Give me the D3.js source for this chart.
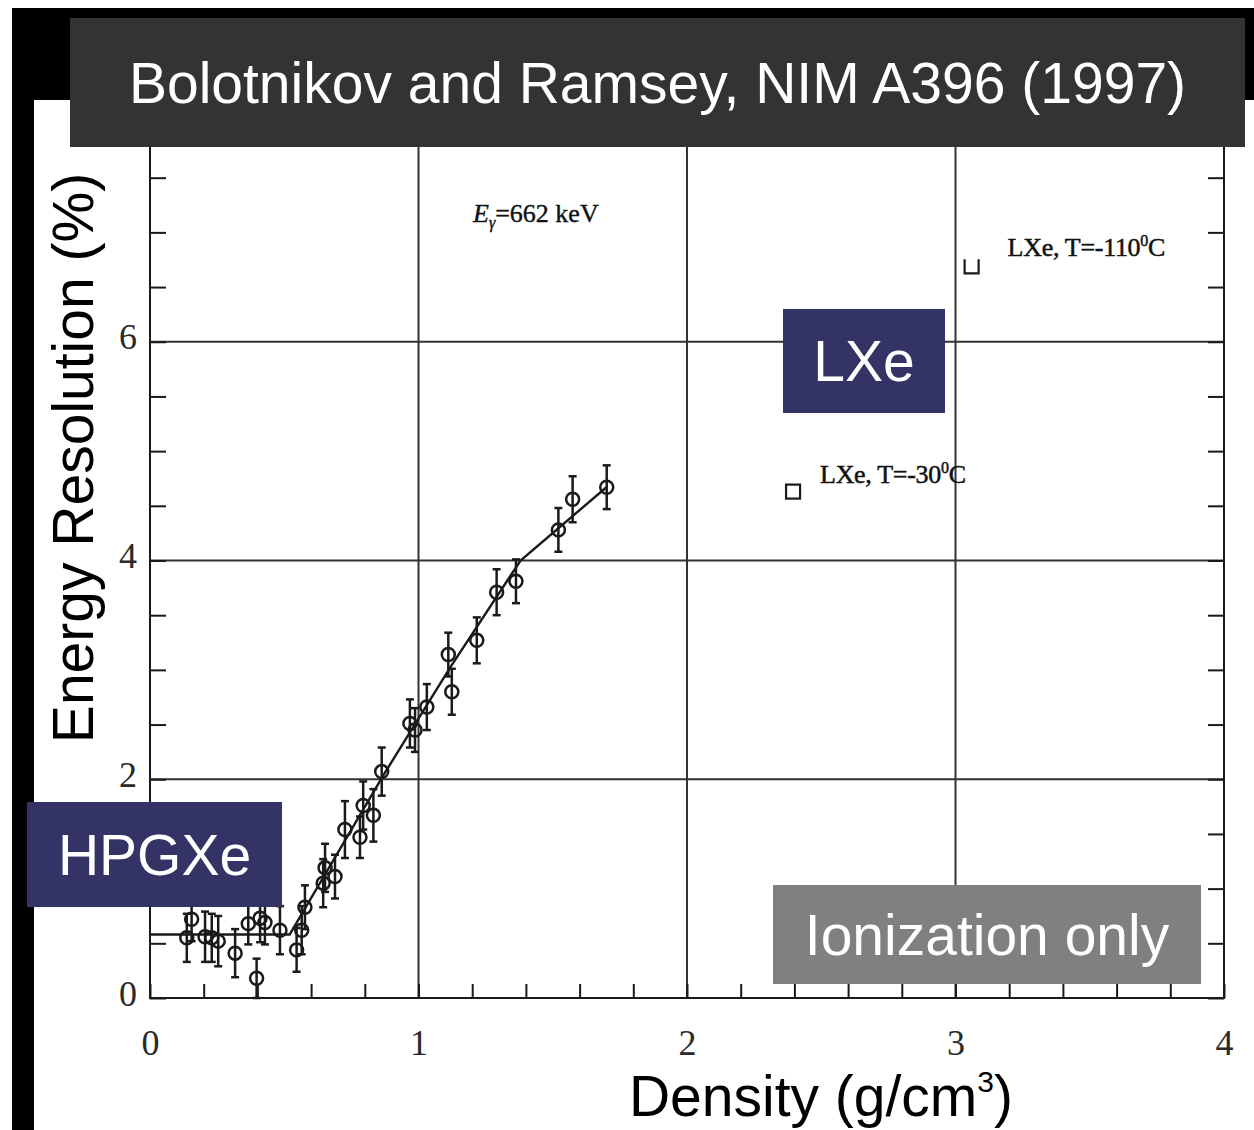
<!DOCTYPE html>
<html>
<head>
<meta charset="utf-8">
<script src="https://cdn.jsdelivr.net/npm/d3@7"></script>
<style>
  html, body { margin: 0; padding: 0; background: #fff; }
  svg { display: block; }
</style>
</head>
<body>
<div id="chart"></div>
<script>
'use strict';

// HPGXe / LXe energy resolution vs density
var density = [0.137, 0.155, 0.205, 0.230, 0.254, 0.317, 0.366, 0.397, 0.410, 0.428,
  0.484, 0.546, 0.565, 0.577, 0.645, 0.652, 0.689, 0.726, 0.782, 0.794,
  0.832, 0.863, 0.968, 0.987, 1.031, 1.111, 1.124, 1.217, 1.291, 1.363,
  1.521, 1.574, 1.701];
var resolution = [0.55, 0.72, 0.56, 0.55, 0.52, 0.41, 0.68, 0.18, 0.73, 0.69,
  0.62, 0.44, 0.62, 0.83, 1.05, 1.19, 1.11, 1.54, 1.47, 1.76,
  1.67, 2.07, 2.51, 2.45, 2.66, 3.14, 2.80, 3.27, 3.71, 3.81,
  4.28, 4.56, 4.67];
var errors = [0.22, 0.20, 0.23, 0.22, 0.23, 0.22, 0.19, 0.18, 0.22, 0.20,
  0.22, 0.20, 0.22, 0.20, 0.22, 0.22, 0.20, 0.26, 0.19, 0.22,
  0.24, 0.22, 0.22, 0.20, 0.21, 0.20, 0.21, 0.21, 0.21, 0.20,
  0.20, 0.21, 0.20];

var fitDensity = [0, 0.52, 0.87, 1.12, 1.38, 1.70];
var fitResolution = [0.58, 0.58, 2.04, 3.03, 4.00, 4.67];

var lxeDensity = [2.395, 3.06];
var lxeResolution = [4.63, 6.69];
var lxeTemps = ['-30', '-110'];

var xTicks = d3.range(0, 4.001, 0.2);
var yTicks = d3.range(0, 8.001, 0.5);
var xLabels = ['0', '1', '2', '3', '4'];
var yLabels = ['0', '2', '4', '6'];
var gridX = [1, 2, 3];
var gridY = [2, 4, 6];

var width = 1254, height = 1130;
var x = d3.scaleLinear().domain([0, 4]).range([150, 1224]);
var y = d3.scaleLinear().domain([0, 8]).range([998, 123]);

var svg = d3.select('#chart').append('svg')
  .attr('width', width)
  .attr('height', height);

svg.append('rect').attr('width', width).attr('height', height).attr('fill', '#fff');

// black slide border top + left
svg.append('rect')
  .attr('x', 12).attr('y', 8).attr('width', width - 12).attr('height', 92)
  .attr('fill', '#000');
svg.append('rect')
  .attr('x', 12).attr('y', 8).attr('width', 22).attr('height', height - 8)
  .attr('fill', '#000');
svg.append('rect')
  .attr('x', 34).attr('y', 100).attr('width', width - 34).attr('height', height - 100)
  .attr('fill', '#fff');

var plot = svg.append('g').attr('class', 'plot');
var ink = '#1a1a1a';

// gridlines
plot.selectAll('line.grid-x')
  .data(gridX)
  .enter().append('line')
  .attr('class', 'grid-x')
  .attr('x1', function(d) { return x(d); })
  .attr('x2', function(d) { return x(d); })
  .attr('y1', y(0)).attr('y2', y(8))
  .attr('stroke', '#333').attr('stroke-width', 2);
plot.selectAll('line.grid-y')
  .data(gridY)
  .enter().append('line')
  .attr('class', 'grid-y')
  .attr('x1', x(0)).attr('x2', x(4))
  .attr('y1', function(d) { return y(d); })
  .attr('y2', function(d) { return y(d); })
  .attr('stroke', '#333').attr('stroke-width', 2);

// frame
plot.append('rect')
  .attr('x', x(0)).attr('y', y(8))
  .attr('width', x(4) - x(0)).attr('height', y(0) - y(8))
  .attr('fill', 'none').attr('stroke', ink).attr('stroke-width', 2);

function styleAxis(g) {
  g.select('.domain').remove();
  g.selectAll('.tick line').attr('stroke', ink).attr('stroke-width', 2);
  g.selectAll('.tick text')
    .attr('fill', '#2a2a2a')
    .style('font-family', '"Liberation Serif", "DejaVu Serif", serif')
    .style('font-size', '36px');
}

plot.append('g')
  .attr('transform', 'translate(0,' + y(0) + ')')
  .call(d3.axisBottom(x).tickValues(xTicks).tickSize(-14).tickPadding(31)
    .tickFormat(function(d) {
      var i = Math.round(d);
      return Math.abs(d - i) < 1e-6 ? xLabels[i] : '';
    }))
  .call(styleAxis);

plot.append('g')
  .attr('transform', 'translate(' + x(0) + ',0)')
  .call(d3.axisLeft(y).tickValues(yTicks).tickSize(-16).tickPadding(13)
    .tickFormat(function(d) {
      var i = Math.round(d);
      return (Math.abs(d - i) < 1e-6 && i % 2 === 0 && i <= 6) ? yLabels[i / 2] : '';
    }))
  .call(styleAxis)
  .selectAll('.tick text').attr('dy', '0.2em');

plot.append('g')
  .attr('transform', 'translate(' + x(4) + ',0)')
  .call(d3.axisRight(y).tickValues(yTicks).tickSize(-16).tickFormat(''))
  .call(styleAxis);

// fit curve
var fit = d3.range(fitDensity.length).map(function(i) { return [fitDensity[i], fitResolution[i]]; });
plot.append('path')
  .datum(fit)
  .attr('d', d3.line().x(function(d) { return x(d[0]); }).y(function(d) { return y(d[1]); }))
  .attr('fill', 'none').attr('stroke', ink).attr('stroke-width', 2.4);

// HPGXe points with error bars
var pts = d3.range(density.length).map(function(i) {
  return { d: density[i], r: resolution[i], e: errors[i] };
});
var pt = plot.selectAll('g.pt')
  .data(pts)
  .enter().append('g')
  .attr('class', 'pt');
pt.append('line')
  .attr('x1', function(p) { return x(p.d); })
  .attr('x2', function(p) { return x(p.d); })
  .attr('y1', function(p) { return y(p.r - p.e); })
  .attr('y2', function(p) { return y(p.r + p.e); })
  .attr('stroke', ink).attr('stroke-width', 2.5);
[-1, 1].forEach(function(s) {
  pt.append('line')
    .attr('x1', function(p) { return x(p.d) - 4; })
    .attr('x2', function(p) { return x(p.d) + 4; })
    .attr('y1', function(p) { return y(p.r + s * p.e); })
    .attr('y2', function(p) { return y(p.r + s * p.e); })
    .attr('stroke', ink).attr('stroke-width', 2.5);
});
pt.append('circle')
  .attr('cx', function(p) { return x(p.d); })
  .attr('cy', function(p) { return y(p.r); })
  .attr('r', 6.5)
  .attr('fill', 'none').attr('stroke', ink).attr('stroke-width', 2.5);

// LXe squares
plot.append('rect')
  .attr('x', x(lxeDensity[0]) - 7).attr('y', y(lxeResolution[0]) - 7)
  .attr('width', 14).attr('height', 14)
  .attr('fill', 'none').attr('stroke', ink).attr('stroke-width', 2.2);
plot.append('path')
  .attr('d', function() {
    var cx = x(lxeDensity[1]), cy = y(lxeResolution[1]);
    return 'M' + (cx - 7) + ',' + (cy - 7) + 'V' + (cy + 7) + 'H' + (cx + 7) + 'V' + (cy - 7);
  })
  .attr('fill', 'none').attr('stroke', ink).attr('stroke-width', 2.2);

var serif = '"Liberation Serif", "Times New Roman", serif';
function lxeLabel(px, py, temp) {
  var t = plot.append('text')
    .attr('x', px).attr('y', py)
    .attr('fill', '#111')
    .attr('stroke', '#111').attr('stroke-width', 0.5)
    .style('font-family', serif)
    .style('font-size', '26px')
    .style('letter-spacing', '-0.3px');
  t.append('tspan').text('LXe, T=' + temp);
  t.append('tspan').attr('dy', -10).style('font-size', '16px').text('0');
  t.append('tspan').attr('dy', 10).text('C');
}
lxeLabel(x(lxeDensity[0]) + 27, y(lxeResolution[0]) - 9, lxeTemps[0]);
lxeLabel(x(lxeDensity[1]) + 36, y(lxeResolution[1]) - 10, lxeTemps[1]);

var eg = plot.append('text')
  .attr('x', 473).attr('y', 222)
  .attr('fill', '#111')
  .attr('stroke', '#111').attr('stroke-width', 0.4)
  .style('font-family', serif)
  .style('font-size', '26px');
eg.append('tspan').style('font-style', 'italic').text('E');
eg.append('tspan').attr('dy', 6).style('font-size', '16px').style('font-style', 'italic').text('γ');
eg.append('tspan').attr('dy', -6).text('=662 keV');

// slide overlays
var sans = '"Liberation Sans", Arial, Helvetica, sans-serif';
function box(bx, by, bw, bh, fill, label) {
  svg.append('rect')
    .attr('x', bx).attr('y', by).attr('width', bw).attr('height', bh)
    .attr('fill', fill);
  svg.append('text')
    .attr('x', bx + bw / 2).attr('y', by + bh / 2)
    .attr('text-anchor', 'middle')
    .attr('dominant-baseline', 'central')
    .attr('fill', '#fff')
    .style('font-family', sans)
    .style('font-size', '57px')
    .text(label);
}
box(70, 18, 1175, 129, '#333333', 'Bolotnikov and Ramsey, NIM A396 (1997)');
box(783, 309, 162, 104, '#333366', 'LXe');
box(27, 802, 255, 105, '#333366', 'HPGXe');
box(773, 885, 428, 99, '#808080', 'Ionization only');

// axis titles
svg.append('text')
  .attr('transform', 'translate(93,458) rotate(-90)')
  .attr('text-anchor', 'middle')
  .attr('fill', '#000')
  .style('font-family', sans)
  .style('font-size', '57px')
  .text('Energy Resolution (%)');

var xt = svg.append('text')
  .attr('x', 821).attr('y', 1116)
  .attr('text-anchor', 'middle')
  .attr('fill', '#000')
  .style('font-family', sans)
  .style('font-size', '57px');
xt.append('tspan').text('Density (g/cm');
xt.append('tspan').attr('dy', -24).style('font-size', '30px').text('3');
xt.append('tspan').attr('dy', 24).text(')');
</script>
</body>
</html>
